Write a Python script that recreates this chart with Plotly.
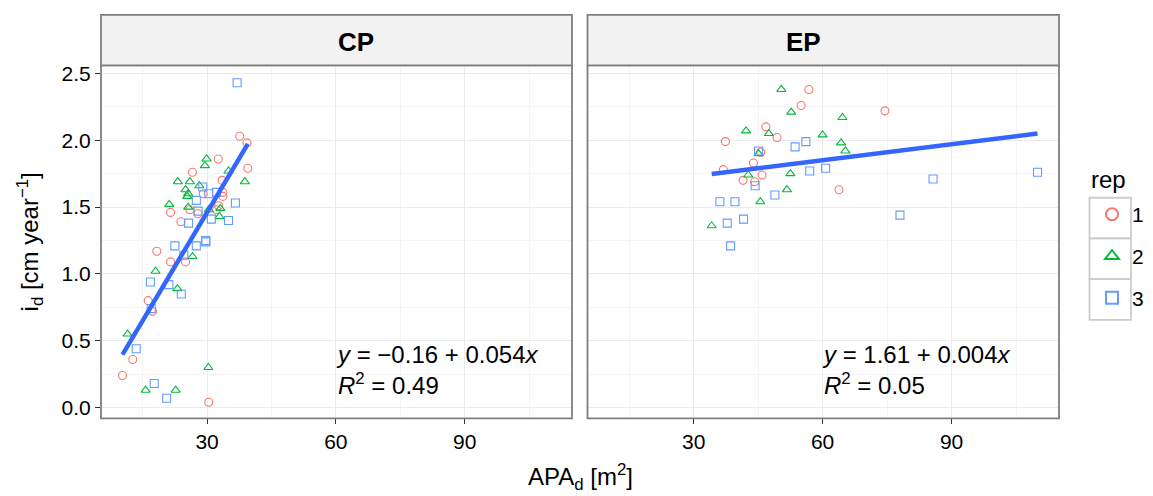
import plotly.graph_objects as go

# ---------------- data ----------------
reps = ["1", "2", "3"]
colors = {"1": "#F8766D", "2": "#00BA38", "3": "#619CFF"}
symbols = {"1": "circle-open", "2": "triangle-up-open", "3": "square-open"}

cp_x_1 = [37.6, 39.3, 32.6, 39.5, 26.6, 33.5, 29.1, 33.7, 33.7, 21.5, 26.0, 27.9, 32.7, 32.2,
          23.9, 18.3, 21.5, 25.0, 16.3, 17.3, 12.7, 10.3, 30.4]
cp_y_1 = [2.03, 1.98, 1.86, 1.79, 1.76, 1.70, 1.60, 1.61, 1.58, 1.46, 1.48, 1.45, 1.51, 1.48,
          1.39, 1.17, 1.09, 1.09, 0.80, 0.72, 0.36, 0.24, 0.04]
cp_x_2 = [29.9, 29.5, 35.0, 38.8, 23.2, 26.0, 28.2, 25.0, 25.6, 25.4, 21.2, 25.6, 30.4, 33.1,
          32.9, 26.6, 18.0, 23.1, 11.5, 30.3, 15.7, 22.7]
cp_y_2 = [1.86, 1.81, 1.77, 1.69, 1.69, 1.69, 1.66, 1.63, 1.60, 1.58, 1.52, 1.50, 1.48, 1.49,
          1.43, 1.13, 1.02, 0.89, 0.55, 0.30, 0.13, 0.13]
cp_x_3 = [37.0, 29.0, 30.4, 32.2, 27.5, 36.6, 27.9, 31.0, 35.0, 25.7, 29.7, 22.5, 27.5, 29.7,
          24.6, 16.8, 21.1, 24.0, 17.0, 13.5, 17.7, 20.6]
cp_y_3 = [2.43, 1.65, 1.60, 1.61, 1.55, 1.53, 1.47, 1.41, 1.40, 1.38, 1.25, 1.21, 1.21, 1.24,
          1.14, 0.94, 0.92, 0.85, 0.74, 0.44, 0.18, 0.07]

ep_x_1 = [56.8, 55.0, 46.8, 49.4, 37.4, 45.6, 43.9, 36.9, 45.9, 41.5, 44.2, 74.5, 63.8]
ep_y_1 = [2.38, 2.26, 2.10, 2.02, 1.99, 1.91, 1.83, 1.78, 1.74, 1.70, 1.69, 2.22, 1.63]
ep_x_2 = [50.4, 52.7, 42.2, 47.5, 60.0, 45.1, 42.7, 52.5, 51.7, 45.5, 34.2, 64.6, 64.3, 65.3]
ep_y_2 = [2.38, 2.21, 2.07, 2.05, 2.04, 1.90, 1.74, 1.75, 1.63, 1.54, 1.36, 2.17, 1.98, 1.92]
ep_x_3 = [56.1, 53.6, 45.1, 44.3, 57.0, 60.7, 48.9, 36.1, 39.6, 41.6, 37.8, 38.6, 85.7, 78.0, 110.0]
ep_y_3 = [1.99, 1.95, 1.92, 1.66, 1.77, 1.79, 1.59, 1.54, 1.54, 1.41, 1.38, 1.21, 1.71, 1.44, 1.76]

cp_data = {"1": (cp_x_1, cp_y_1), "2": (cp_x_2, cp_y_2), "3": (cp_x_3, cp_y_3)}
ep_data = {"1": (ep_x_1, ep_y_1), "2": (ep_x_2, ep_y_2), "3": (ep_x_3, ep_y_3)}

# fitted lines (from the labels)
cp_intercept, cp_slope, cp_r2 = -0.16, 0.054, 0.49
ep_intercept, ep_slope, ep_r2 = 1.61, 0.004, 0.05

panels = ["CP", "EP"]
x_ticks = [30, 60, 90]
y_ticks = [0.0, 0.5, 1.0, 1.5, 2.0, 2.5]
y_ticktext = ["0.0", "0.5", "1.0", "1.5", "2.0", "2.5"]
x_range = [5.3, 115.0]
y_range = [-0.08, 2.56]

FONT = "Liberation Sans, Arial, sans-serif"
W, H = 1153, 496

fig = go.Figure()


def add_panel(data, xa, ya, showlegend):
    for r in reps:
        xs, ys = data[r]
        fig.add_trace(go.Scatter(
            x=xs, y=ys, mode="markers", name=r, legendgroup=r, showlegend=showlegend,
            xaxis=xa, yaxis=ya,
            marker=dict(symbol=symbols[r], color=colors[r], size=8, line=dict(width=1.1)),
        ))


def add_fit(data, a, b, xa, ya):
    allx = [v for r in reps for v in data[r][0]]
    x0, x1 = min(allx), max(allx)
    fig.add_trace(go.Scatter(
        x=[x0, x1], y=[a + b * x0, a + b * x1], mode="lines", showlegend=False,
        xaxis=xa, yaxis=ya, line=dict(color="#3366FF", width=4.5), hoverinfo="skip",
    ))


add_panel(cp_data, "x", "y", True)
add_fit(cp_data, cp_intercept, cp_slope, "x", "y")
add_panel(ep_data, "x2", "y2", False)
add_fit(ep_data, ep_intercept, ep_slope, "x2", "y2")

px = lambda p: p / W
py = lambda p: (H - p) / H

dom_cp = [px(101), px(572)]
dom_ep = [px(587.5), px(1059)]
dom_y = [py(418.5), py(62)]

axis_common = dict(
    range=x_range, tickvals=x_ticks, ticks="outside", ticklen=5, tickwidth=1.2,
    tickcolor="#333333", showline=False, zeroline=False,
    showgrid=True, gridcolor="#EBEBEB", gridwidth=1.2,
    minor=dict(tickvals=[15, 45, 75, 105], showgrid=True, gridcolor="#F4F4F4", gridwidth=0.8, ticks=""),
    tickfont=dict(family=FONT, size=21, color="#000000"),
)
yaxis_common = dict(
    range=y_range, tickvals=y_ticks, ticktext=y_ticktext,
    ticks="outside", ticklen=5, tickwidth=1.2, tickcolor="#333333",
    showline=False, zeroline=False, showgrid=True, gridcolor="#EBEBEB", gridwidth=1.2,
    minor=dict(tickvals=[0.25, 0.75, 1.25, 1.75, 2.25], showgrid=True, gridcolor="#F4F4F4",
               gridwidth=0.8, ticks=""),
    tickfont=dict(family=FONT, size=21, color="#000000"),
)

fig.update_layout(
    width=W, height=H, margin=dict(l=0, r=0, t=0, b=0),
    paper_bgcolor="white", plot_bgcolor="white",
    xaxis=dict(domain=dom_cp, anchor="y", **axis_common),
    xaxis2=dict(domain=dom_ep, anchor="y2", **axis_common),
    yaxis=dict(domain=dom_y, anchor="x", **yaxis_common,
               title=dict(text="i<sub>d</sub> [cm year<sup>−1</sup>]",
                          font=dict(family=FONT, size=24, color="#000000"), standoff=16)),
    yaxis2=dict(domain=dom_y, anchor="x2", matches="y", showticklabels=False,
                **{k: v for k, v in yaxis_common.items() if k not in ("tickfont", "ticks")}, ticks=""),
    legend=dict(
        x=px(1092), y=py(192), xanchor="left", yanchor="top",
        font=dict(family=FONT, size=21, color="#000000"),
        tracegroupgap=11.5, itemsizing="constant", bgcolor="rgba(0,0,0,0)",
    ),
    showlegend=True,
)

shapes = []
for xa in ["x", "x2"]:
    shapes.append(dict(type="rect", xref=f"{xa} domain", yref="y domain", x0=0, x1=1, y0=0, y1=1,
                       line=dict(color="#7F7F7F", width=1.8), fillcolor="rgba(0,0,0,0)", layer="above"))
for dom in [dom_cp, dom_ep]:
    shapes.append(dict(type="rect", xref="paper", yref="paper", x0=dom[0], x1=dom[1],
                       y0=dom_y[1], y1=py(11), line=dict(color="#7F7F7F", width=1.8),
                       fillcolor="#F2F2F2"))
# legend key boxes
for top, bot in [(195.7, 236.7), (236.7, 278), (278, 319)]:
    shapes.append(dict(type="rect", xref="paper", yref="paper", x0=px(1089.5), x1=px(1131),
                       y0=py(bot), y1=py(top), line=dict(color="#CCCCCC", width=1.8),
                       fillcolor="rgba(0,0,0,0)", layer="below"))
fig.update_layout(shapes=shapes)

ann = []
for dom, name in zip([dom_cp, dom_ep], panels):
    ann.append(dict(text=f"<b>{name}</b>", x=(dom[0] + dom[1]) / 2, y=py(38), xref="paper", yref="paper",
                    yanchor="middle", showarrow=False, font=dict(family=FONT, size=26, color="#000000")))
for xa, ya, a, b, r2 in [("x", "y", cp_intercept, cp_slope, cp_r2), ("x2", "y2", ep_intercept, ep_slope, ep_r2)]:
    sign = "−" if a < 0 else ""
    txt = (f"<i>y</i> = {sign}{abs(a):.2f} + {b:.3f}<i>x</i><br>"
           f"<i>R</i><sup>2</sup> = {r2:.2f}")
    ann.append(dict(text=txt, x=59.5, y=0.28, xref=xa, yref=ya, xanchor="left", yanchor="middle",
                    align="left", showarrow=False, font=dict(family=FONT, size=24, color="#000000")))
ann.append(dict(text="APA<sub>d</sub> [m<sup>2</sup>]", x=px(580), y=py(478), xref="paper", yref="paper",
                yanchor="middle", showarrow=False, font=dict(family=FONT, size=24, color="#000000")))
ann.append(dict(text="rep", x=px(1089), y=py(177), xref="paper", yref="paper", xanchor="left",
                yanchor="middle", showarrow=False, font=dict(family=FONT, size=24, color="#000000")))
fig.update_layout(annotations=ann)

fig.write_html("out.html", config={"displayModeBar": False},
               post_script="document.body.style.margin='0px';")
